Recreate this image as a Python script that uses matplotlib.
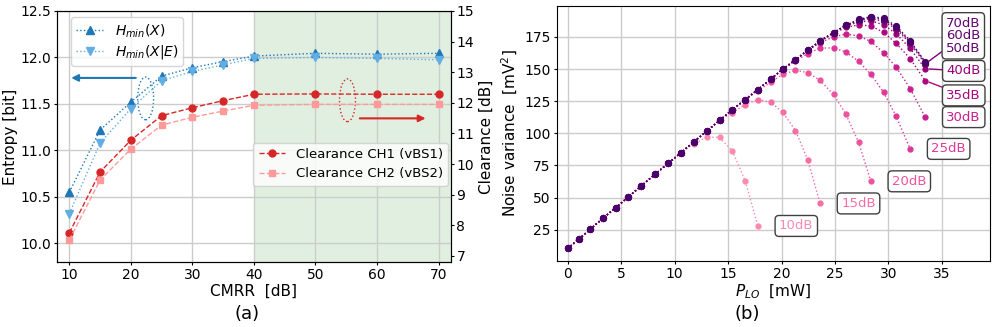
import matplotlib
matplotlib.use("Agg")
import matplotlib.pyplot as plt
from matplotlib.patches import Ellipse
import numpy as np

# ---------------- panel (a) data ----------------
cmrr = [10, 15, 20, 25, 30, 35, 40, 50, 60, 70]
h_min_x = [10.55, 11.22, 11.52, 11.80, 11.89, 11.955, 12.015, 12.045, 12.035, 12.045]
h_min_x_e = [10.32, 11.08, 11.45, 11.75, 11.85, 11.92, 11.99, 12.00, 11.99, 11.975]
clear_ch1 = [7.75, 9.74, 10.78, 11.58, 11.84, 12.07, 12.28, 12.29, 12.28, 12.28]
clear_ch2 = [7.52, 9.48, 10.49, 11.27, 11.53, 11.73, 11.92, 11.95, 11.95, 11.95]

# ---------------- panel (b) data ----------------
p_lo = [0, 1.03, 2.12, 3.28, 4.48, 5.66, 6.9, 8.17, 9.42, 10.6, 11.79, 13.0, 14.2,
        15.4, 16.6, 17.78, 19.0, 20.1, 21.3, 22.46, 23.6, 24.86, 26.0, 27.2,
        28.35, 29.54, 30.72, 32.03, 33.44]
# shared rising part (all CMRR values coincide here)
rise = [10.5, 17.7, 25.5, 33.9, 42.1, 50.5, 59.3, 68.2, 76.8, 85.0, 93.4, 101.7,
        110.0, 118.4, 126.2, 134.0, 142.3, 149.8, 157.2, 164.7, 171.8, 178.3, 184.0]
# tails after each curve leaves the rising part
tail_10 = [91.8, 97.0, 96.8, 86.3, 63.2, 28.0]
tail_15 = [116.0, 122.4, 126.2, 124.2, 116.5, 102.2, 79.2, 45.5]
tail_20 = [133.0, 139.8, 145.8, 149.0, 147.2, 141.2, 130.2, 115.2, 93.2, 62.7]
tail_25 = [149.3, 156.3, 162.0, 166.3, 166.4, 163.3, 156.0, 145.9, 132.0, 113.2, 87.9]
tail_30 = [164.2, 170.5, 175.0, 177.1, 175.8, 171.4, 162.8, 151.5, 134.8, 112.6]
tail_35 = [177.5, 182.3, 184.3, 183.5, 178.5, 170.0, 158.1, 140.9]
tail_40 = [183.5, 186.5, 187.5, 184.3, 177.5, 166.0, 150.2]
tail_50 = [187.6, 189.3, 187.2, 181.3, 170.0, 154.0]
tail_60 = [188.0, 190.2, 188.5, 182.5, 171.0, 155.0]
tail_70 = [188.5, 190.8, 189.5, 183.5, 172.0, 155.5]
cmrr_labels = ["10dB", "15dB", "20dB", "25dB", "30dB", "35dB", "40dB", "50dB", "60dB", "70dB"]
tails = [tail_10, tail_15, tail_20, tail_25, tail_30, tail_35, tail_40, tail_50, tail_60, tail_70]
n_rise = [10, 13, 15, 17, 19, 21, 22, 23, 23, 23]

fig = plt.figure(figsize=(9.97, 3.27), dpi=100)

# ================= (a) =================
ax = fig.add_axes([0.0572, 0.1988, 0.395, 0.7676])
ax2 = ax.twinx()

ax.axvspan(40, 72, color="green", alpha=0.12, lw=0)
ax.plot(cmrr, h_min_x, ls=":", marker="^", color="#1f77b4", ms=5.5, lw=1,
        label=r"$H_{min}(X)$")
ax.plot(cmrr, h_min_x_e, ls=":", marker="v", color="#62aee3", ms=5.5, lw=1,
        label=r"$H_{min}(X|E)$")
ax2.plot(cmrr, clear_ch1, ls="--", marker="o", color="#d62728", ms=5, lw=1,
         label="Clearance CH1 (vBS1)")
ax2.plot(cmrr, clear_ch2, ls="--", marker="s", color="#ff9a9a", ms=5, lw=1,
         label="Clearance CH2 (vBS2)")

ax.set_xlim(8, 72)
ax.set_ylim(9.8, 12.5)
ax2.set_ylim(6.8, 15)
ax.set_xticks([10, 20, 30, 40, 50, 60, 70])
ax.set_yticks([10.0, 10.5, 11.0, 11.5, 12.0, 12.5])
ax.yaxis.set_major_formatter(matplotlib.ticker.FormatStrFormatter("%.1f"))
ax2.set_yticks(range(7, 16))
ax.grid(True, color="#cccccc", lw=1)
ax.tick_params(labelsize=10, length=2.5, pad=1.5)
ax2.tick_params(labelsize=10, length=2.5, pad=1.5)
ax.set_xlabel("CMRR  [dB]", fontsize=11, labelpad=1.5)
ax.set_ylabel("Entropy [bit]", fontsize=11, labelpad=2)
ax2.set_ylabel("Clearance [dB]", fontsize=11, labelpad=3)

ax.add_patch(Ellipse((22.4, 11.56), 2.6, 0.46, fill=False, ls=":",
                     ec="#1f77b4", lw=1))
ax.add_patch(Ellipse((55.2, 11.54), 2.6, 0.46, fill=False, ls=":",
                     ec="#d62728", lw=1))
ax.annotate("", xy=(10.3, 11.78), xytext=(20.8, 11.78),
            arrowprops=dict(arrowstyle="-|>", color="#1f77b4", lw=1.5,
                            mutation_scale=10, shrinkA=0, shrinkB=0))
ax.annotate("", xy=(67.9, 11.345), xytext=(57.2, 11.345),
            arrowprops=dict(arrowstyle="-|>", color="#d62728", lw=1.5,
                            mutation_scale=10, shrinkA=0, shrinkB=0))

ax.legend(loc="upper left", bbox_to_anchor=(0.035, 0.975), borderaxespad=0,
          fontsize=10, labelspacing=0.25, borderpad=0.35)
ax2.legend(loc="center right", bbox_to_anchor=(0.993, 0.39), borderaxespad=0,
           fontsize=9.5)

fig.text(0.248, 0.04, "(a)", ha="center", va="center", fontsize=13)

# ================= (b) =================
axb = fig.add_axes([0.5587, 0.2028, 0.4343, 0.7789])
colors = plt.get_cmap("RdPu")(np.linspace(0.42, 1.0, 10))

label_pos = {"35dB": 129.5, "40dB": 148.5}
for lab, tail, k, c in zip(cmrr_labels, tails, n_rise, colors):
    y = rise[:k] + tail
    x = p_lo[:len(y)]
    big = lab in ("50dB", "60dB", "70dB")
    axb.plot(x, y, ls=":", marker="o", color=c, ms=4.2 if big else 3.5, lw=1)

bbox = dict(boxstyle="round,pad=0.3", fc="white", ec="#404040", lw=1)
for lab, tail, k, c in zip(cmrr_labels, tails, n_rise, colors):
    y = rise[:k] + tail
    xe, ye = p_lo[len(y) - 1], y[-1]
    xt = xe + 3.6
    if lab in ("50dB", "60dB", "70dB"):
        continue
    yt = label_pos.get(lab, ye)
    if lab in ("35dB", "40dB"):
        axb.annotate(lab, xy=(xe, ye), xytext=(xt, yt), color=c, fontsize=9.5,
                     ha="center", va="center", bbox=bbox,
                     arrowprops=dict(arrowstyle="-", color=c, lw=1, shrinkA=0,
                                     shrinkB=3))
    else:
        axb.text(xt, yt, lab, color=c, fontsize=9.5, ha="center", va="center",
                 bbox=bbox)

# the three top labels share one box
y50 = rise + tail_50
axb.annotate("70dB\n60dB\n50dB", xy=(p_lo[-1], y50[-1]), xytext=(37.0, 175.8),
             color=colors[8], fontsize=9.5, ha="center", va="center",
             linespacing=0.97, bbox=bbox,
             arrowprops=dict(arrowstyle="-", color=colors[7], lw=1, shrinkA=0,
                             shrinkB=3))

axb.set_xlim(-1, 39.5)
axb.set_ylim(1, 199)
axb.set_xticks(range(0, 40, 5))
axb.set_yticks([25, 50, 75, 100, 125, 150, 175])
axb.grid(True, color="#cccccc", lw=1)
axb.tick_params(labelsize=10, length=2.5, pad=2)
axb.set_xlabel(r"$P_{LO}$  [mW]", fontsize=11, labelpad=1.5)
axb.set_ylabel(r"Noise variance  [mV$^2$]", fontsize=11, labelpad=3)

fig.text(0.749, 0.04, "(b)", ha="center", va="center", fontsize=13)

fig.savefig("out.png", dpi=100)
